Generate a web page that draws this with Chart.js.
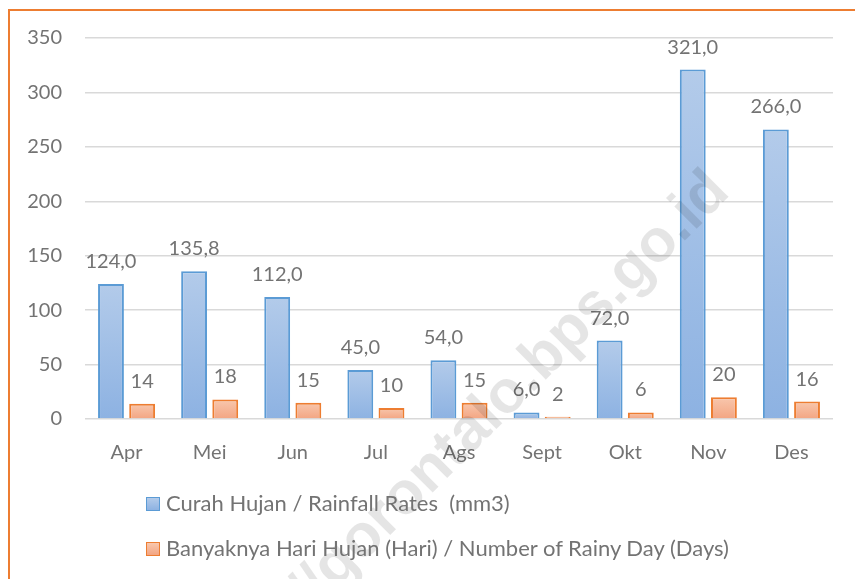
<!DOCTYPE html>
<html>
<head>
<meta charset="utf-8">
<script src="https://cdn.jsdelivr.net/npm/chart.js@4/dist/chart.umd.min.js"></script>
<style>
   html, body { margin: 0; padding: 0; background: #fff; }
   body { width: 855px; height: 579px; position: relative; overflow: hidden; font-family: Lato, "Open Sans", sans-serif; }
   .frame { position: absolute; left: 8px; top: 9px; width: 900px; height: 700px; border: 2px solid #ed7d31; box-sizing: border-box; }
   #wrap { position: absolute; left: 0; top: 0; width: 855px; height: 579px; }
   .legend { position: absolute; left: 146px; color: #737373; font-size: 22px; line-height: 26px; white-space: nowrap; }
   .legend span.box { display: inline-block; width: 12px; height: 12px; margin-right: 6px; vertical-align: 0px; }
</style>
</head>
<body>
<div class="frame"></div>
<div id="wrap"><canvas id="canvas-1"></canvas></div>
<div class="legend" style="top:490px"><span class="box" style="background:linear-gradient(#b3cbea,#8db2e2);border:1.5px solid #5b9bd5"></span>Curah Hujan / Rainfall Rates&nbsp; (mm3)</div>
<div class="legend" style="top:535px"><span class="box" style="background:linear-gradient(#f8c7ad,#f3a582);border:1.5px solid #ed7d31"></span>Banyaknya Hari Hujan (Hari) / Number of Rainy Day (Days)</div>
<script>
const MONTHS = ["Apr", "Mei", "Jun", "Jul", "Ags", "Sept", "Okt", "Nov", "Des"];
const RAINFALL = [124.0, 135.8, 112.0, 45.0, 54.0, 6.0, 72.0, 321.0, 266.0];
const RAINY_DAYS = [14, 18, 15, 10, 15, 2, 6, 20, 16];
const Y_TICKS = [0, 50, 100, 150, 200, 250, 300, 350];

const barGradient = (top, bottom) => (ctx) => {
   const chart = ctx.chart;
   if (!chart.chartArea || ctx.parsed === undefined) return bottom;
   const y = chart.scales.y;
   const y0 = y.getPixelForValue(0);
   const y1 = y.getPixelForValue(ctx.parsed.y);
   if (!isFinite(y1) || y0 === y1) return bottom;
   const g = chart.ctx.createLinearGradient(0, y1, 0, y0);
   g.addColorStop(0, top);
   g.addColorStop(1, bottom);
   return g;
};

// value above each bar, comma decimals like the source
const valueLabels = {
   id: "valueLabels",
   afterDatasetsDraw(chart) {
      const ctx = chart.ctx;
      ctx.save();
      ctx.font = "20px Lato";
      ctx.fillStyle = "#737373";
      ctx.textAlign = "center";
      ctx.textBaseline = "alphabetic";
      chart.data.datasets.forEach((ds, i) => {
         chart.getDatasetMeta(i).data.forEach((bar, j) => {
            const v = ds.data[j];
            const txt = i === 0 ? v.toFixed(1).replace(".", ",") : String(v);
            ctx.fillText(txt, bar.x, bar.y - 16);
         });
      });
      ctx.restore();
   },
};

const watermark = {
   id: "watermark",
   afterDraw(chart) {
      const ctx = chart.ctx;
      ctx.save();
      ctx.translate(510, 392);
      ctx.rotate(-Math.PI / 4);
      ctx.font = "bold 60px 'Liberation Sans'";
      ctx.fillStyle = "rgba(0, 0, 0, 0.1)";
      ctx.textAlign = "center";
      ctx.textBaseline = "middle";
      ctx.fillText("//gorontalo.bps.go.id", 0, 0);
      ctx.restore();
   },
};

const drawChart = () => {
   const canvas = document.getElementById("canvas-1");
   const ctx = canvas.getContext("2d");

   new Chart(ctx, {
      type: "bar",
      data: {
         labels: MONTHS,
         datasets: [
            {
               label: "Curah Hujan / Rainfall Rates  (mm3)",
               data: RAINFALL,
               backgroundColor: barGradient("#b3cbea", "#8db2e2"),
               borderColor: "#5b9bd5",
               borderWidth: 2,
               borderSkipped: "bottom",
            },
            {
               label: "Banyaknya Hari Hujan (Hari) / Number of Rainy Day (Days)",
               data: RAINY_DAYS,
               backgroundColor: barGradient("#f8c7ad", "#f3a582"),
               borderColor: "#ed7d31",
               borderWidth: 2,
               borderSkipped: "bottom",
            },
         ],
      },
      options: {
         responsive: true,
         maintainAspectRatio: false,
         animation: false,
         categoryPercentage: 0.75,
         barPercentage: 0.83,
         layout: {
            padding: { left: 0, right: 22, top: 38, bottom: 115 },
         },
         scales: {
            y: {
               min: 0,
               max: 350,
               afterFit: (scale) => { scale.width = 85; },
               afterBuildTicks: (scale) => { scale.ticks = Y_TICKS.map((v) => ({ value: v })); },
               border: { display: false },
               grid: { color: "#d9d9d9", lineWidth: 1.5, drawTicks: false },
               ticks: { padding: 23, color: "#737373", font: { family: "Lato", size: 20 } },
            },
            x: {
               afterFit: (scale) => { scale.height = 45; },
               border: { display: false },
               grid: { display: false, drawTicks: false },
               ticks: { padding: 22, color: "#737373", font: { family: "Lato", size: 20 } },
            },
         },
         plugins: {
            legend: { display: false },
            tooltip: { enabled: false },
         },
      },
      plugins: [valueLabels, watermark],
   });
};

drawChart();
</script>
</body>
</html>
